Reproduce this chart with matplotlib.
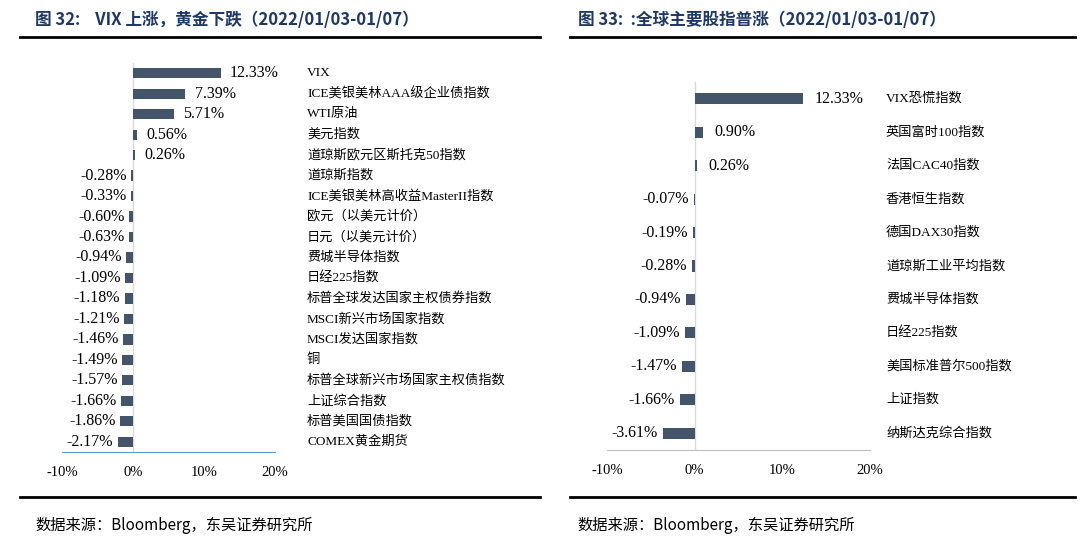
import matplotlib
matplotlib.use("Agg")
import matplotlib.pyplot as plt

# left panel: figure 32
left_names = ["VIX", "ICE美银美林AAA级企业债指数", "WTI原油", "美元指数", "道琼斯欧元区斯托克50指数",
              "道琼斯指数", "ICE美银美林高收益MasterII指数", "欧元（以美元计价）", "日元（以美元计价）",
              "费城半导体指数", "日经225指数", "标普全球发达国家主权债券指数", "MSCI新兴市场国家指数",
              "MSCI发达国家指数", "铜", "标普全球新兴市场国家主权债指数", "上证综合指数",
              "标普美国国债指数", "COMEX黄金期货"]
left_vals = [12.33, 7.39, 5.71, 0.56, 0.26, -0.28, -0.33, -0.60, -0.63, -0.94, -1.09,
             -1.18, -1.21, -1.46, -1.49, -1.57, -1.66, -1.86, -2.17]

# right panel: figure 33
right_names = ["VIX恐慌指数", "英国富时100指数", "法国CAC40指数", "香港恒生指数", "德国DAX30指数",
               "道琼斯工业平均指数", "费城半导体指数", "日经225指数", "美国标准普尔500指数",
               "上证指数", "纳斯达克综合指数"]
right_vals = [12.33, 0.90, 0.26, -0.07, -0.19, -0.28, -0.94, -1.09, -1.47, -1.66, -3.61]

xticks = [-10, 0, 10, 20]
xtick_labels = ["-10%", "0%", "10%", "20%"]

BAR = "#44546A"
FONT = ["Liberation Serif", "Noto Sans CJK SC"]
CJK = "Noto Sans CJK SC"
TITLE_C = "#1F3864"

fig = plt.figure(figsize=(10.8, 5.47), dpi=100)
W, H = 1080, 547


def fx(px):
    return px / W


def fy(py):
    return 1 - py / H


def panel(box, names, vals, label_px, bar_h, axis_color, fs):
    x0, x1, y0, y1 = box
    ax = fig.add_axes([fx(x0), fy(y1), fx(x1 - x0), (y1 - y0) / H])
    n = len(names)
    ys = range(n)
    ax.barh(ys, vals, height=bar_h, color=BAR, zorder=3)
    ax.set_xlim(-10, 20)
    ax.set_ylim(n - 0.5, -0.5)
    ax.axvline(0, color="#D9D9D9", lw=1, zorder=1)
    for s in ["top", "right", "left"]:
        ax.spines[s].set_visible(False)
    ax.spines["bottom"].set_color(axis_color)
    ax.set_yticks([])
    ax.set_xticks(xticks)
    ax.set_xticklabels(xtick_labels, fontfamily=FONT, fontsize=fs)
    ax.tick_params(axis="x", length=0, pad=10)
    for y, v, name in zip(ys, vals, names):
        if v >= 0:
            ax.text(v + 1.3, y, f"{v:.2f}%", va="center", ha="left", fontsize=fs + 1, fontfamily=FONT)
        else:
            ax.text(v - 0.6, y, f"{v:.2f}%", va="center", ha="right", fontsize=fs + 1, fontfamily=FONT)
        fig.text(fx(label_px), 0, name, transform=matplotlib.transforms.blended_transform_factory(fig.transFigure, ax.transData),
                 va="center", ha="left", fontsize=fs - 1, fontfamily=FONT)
        # keep y in data coords
        fig.texts[-1].set_position((fx(label_px), y))
    return ax


panel((62, 275, 63, 452), left_names, left_vals, 307, 0.5, "#5B9BD5", 10.5)
panel((607, 870, 82, 450), right_names, right_vals, 886, 0.33, "#BFBFBF", 10.5)

# titles and separator lines
fig.text(fx(35), fy(20), "图 32:    VIX 上涨，黄金下跌（2022/01/03-01/07）", fontfamily=CJK,
         fontweight="bold", fontsize=12, color=TITLE_C, va="center")
fig.text(fx(578), fy(20), "图 33:  :全球主要股指普涨（2022/01/03-01/07）", fontfamily=CJK,
         fontweight="bold", fontsize=12, color=TITLE_C, va="center")
for xa, xb in [(20, 540), (570, 1075)]:
    fig.add_artist(plt.Line2D([fx(xa), fx(xb)], [fy(37), fy(37)], color="black", lw=2))
    fig.add_artist(plt.Line2D([fx(xa), fx(xb)], [fy(497), fy(497)], color="black", lw=2))
fig.text(fx(35), fy(525), "数据来源：Bloomberg，东吴证券研究所", fontfamily=CJK, fontsize=11, va="center")
fig.text(fx(577), fy(525), "数据来源：Bloomberg，东吴证券研究所", fontfamily=CJK, fontsize=11, va="center")

fig.savefig("out.png", dpi=100)
